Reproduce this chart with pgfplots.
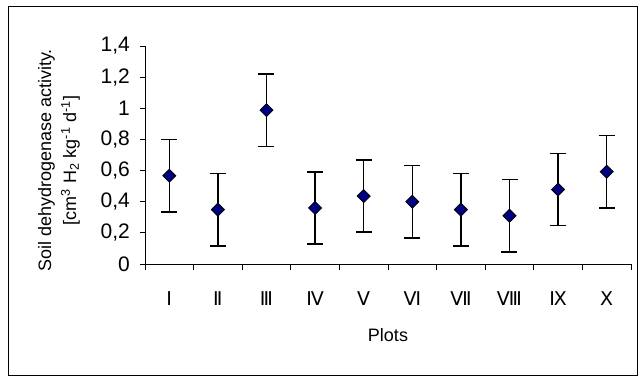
\documentclass[border=0pt]{standalone}
\usepackage{fontspec}
\setmainfont{Liberation Sans}
\newfontfamily\romfont{DejaVu Sans}
\usepackage{pgfplots}
\usepackage{pgfplotstable}
\pgfplotsset{compat=1.18}
\pgfplotstableread{
x y e
1 0.567 0.232
2 0.349 0.232
3 0.988 0.232
4 0.360 0.232
5 0.436 0.232
6 0.400 0.232
7 0.349 0.232
8 0.310 0.232
9 0.478 0.232
10 0.593 0.232
}\datatable
\definecolor{navy}{HTML}{000080}
\begin{document}
\begin{tikzpicture}[x=1pt,y=1pt]
\useasboundingbox (-145,-112) rectangle (493,264);
\draw[line width=1pt] (-136,-111) rectangle (492,258);
\begin{axis}[
  at={(0,0)}, anchor=south west,
  scale only axis, width=486pt, height=218pt,
  xmin=0.5, xmax=10.5, ymin=0, ymax=1.4,
  axis x line*=bottom, axis y line*=left,
  axis line style={line width=0.9pt},
  tick align=outside,
  ytick={0,0.2,0.4,0.6,0.8,1,1.2,1.4},
  xtick={1,2,3,4,5,6,7,8,9,10},
  xticklabels={Ⅰ,Ⅱ,Ⅲ,Ⅳ,Ⅴ,Ⅵ,Ⅶ,Ⅷ,Ⅸ,Ⅹ},
  minor xtick={0.5,1.5,2.5,3.5,4.5,5.5,6.5,7.5,8.5,9.5,10.5},
  major x tick style={draw=none},
  minor tick length=6pt, major tick length=5pt,
  every tick/.style={black, line width=0.9pt},
  /pgf/number format/use comma,
  /pgf/number format/assume math mode=true,
  yticklabel style={font=\fontsize{21}{21}\selectfont, inner sep=0pt, xshift=-10pt},
  xticklabel style={font=\romfont\fontsize{19}{19}\selectfont, anchor=north, yshift=-19pt},
  ylabel={Soil dehydrogenase activity.\\{}{[}cm\textsuperscript{3} H\textsubscript{2} kg\textsuperscript{-1} d\textsuperscript{-1}{]}},
  ylabel style={font=\fontsize{18}{25}\selectfont, align=center, at={(axis description cs:-0.177,0.475)}, anchor=center},
  xlabel={Plots},
  xlabel style={font=\fontsize{18}{18}\selectfont, at={(axis description cs:0.5,-0.326)}, anchor=center},
  clip=false,
]
\addplot[only marks, mark=square*, mark size=4.6pt,
  mark options={rotate=45, fill=navy, draw=black, line width=0.8pt},
  error bars/.cd, y dir=both, y explicit,
  error bar style={line width=1.5pt, black},
  error mark options={rotate=90, mark size=8pt, line width=1.5pt, black}]
  table[x=x, y=y, y error=e] {\datatable};
\end{axis}
\end{tikzpicture}
\end{document}
